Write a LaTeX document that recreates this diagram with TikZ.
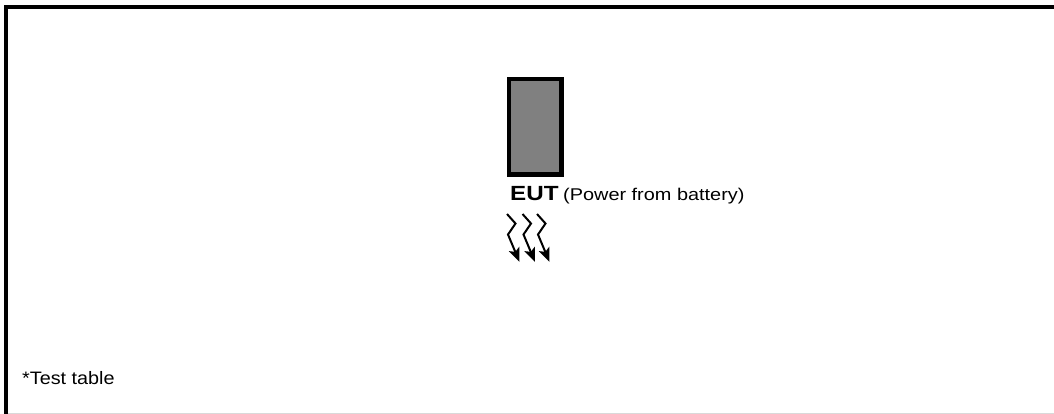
\documentclass[tikz,border=0pt]{standalone}
\usepackage{fontspec}
\setmainfont{Liberation Sans}
\usetikzlibrary{arrows.meta}
\definecolor{eutgray}{HTML}{808080}
\tikzset{
  frameline/.style={line width=4pt, black},
  eutbox/.style={draw=black, line width=4.5pt, fill=eutgray},
  txt/.style={inner sep=0pt, anchor=base west},
  wave/.style={line width=2pt, -{Stealth[length=14pt,width=11pt,inset=3pt]}}
}
\begin{document}
\begin{tikzpicture}[x=1pt,y=-1pt]
\useasboundingbox (0,0) rectangle (1054,414);
% frame
\coordinate (tr) at (1054,7.2);
\coordinate (bl) at (6,414);
\coordinate (bl2) at (8,413.3);
\coordinate (br) at (1054,413.3);
\draw[frameline] (4,7.2) -- (tr);
\draw[frameline] (6,5.2) -- (bl);
\draw[line width=1pt, black!15] (bl2) -- (br);
% EUT
\draw[eutbox] (509,79) rectangle (561.7,174.7);
\node[txt] (eut) at (510,200.7) {\scalebox{1.18}[1]{\fontsize{20.5}{24}\selectfont\bfseries EUT}};
\node[txt] (pw) at (563,200.7) {\scalebox{1.17}[1]{\fontsize{17}{20}\selectfont (Power from battery)}};
% waves
\foreach \i/\dx in {1/0,2/15.5,3/30}{
  \coordinate (a\i) at (507+\dx,214);
  \coordinate (b\i) at (515.5+\dx,223.5);
  \coordinate (c\i) at (508+\dx,234.5);
  \coordinate (d\i) at (519.5+\dx,262);
  \draw[wave] (a\i) -- (b\i) -- (c\i) -- (d\i);
}
% test table
\node[txt] (tt) at (22,384) {\scalebox{1.1}[1]{\fontsize{18}{21}\selectfont *Test table}};
\end{tikzpicture}
\end{document}
